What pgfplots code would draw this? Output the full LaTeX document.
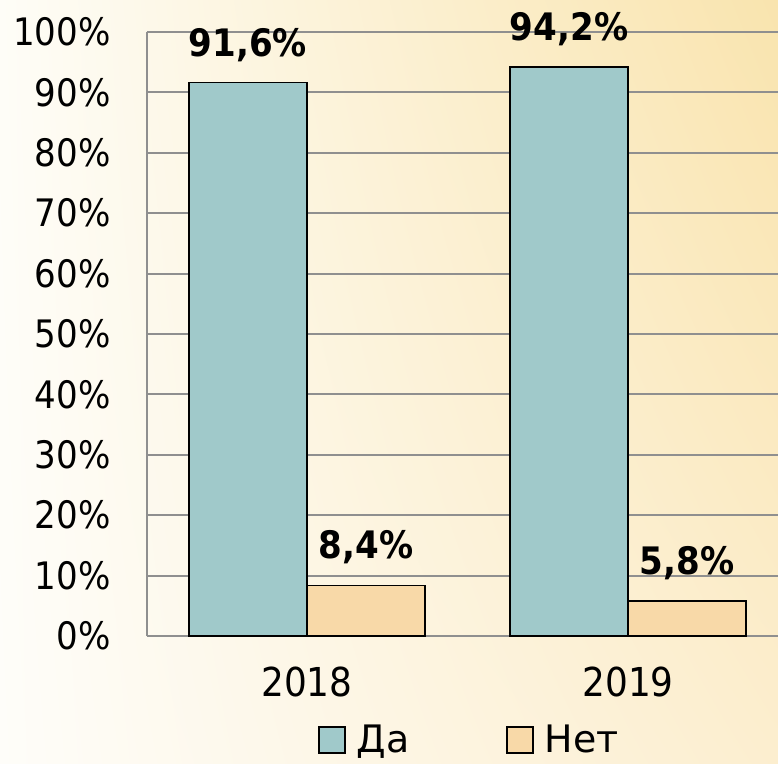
\documentclass[border=0pt]{standalone}
\usepackage{pgfplots}
\pgfplotsset{compat=1.18}
\usetikzlibrary{shadings}
\usepackage{fontspec}
\setmainfont{DejaVu Sans Condensed}
\newfontfamily\legfont{DejaVu Sans}
\definecolor{teal1}{HTML}{A0C9CA}
\definecolor{peach}{HTML}{F8D9A8}
\definecolor{gridg}{HTML}{8F8F8F}
\definecolor{bgul}{HTML}{FEFDF7}
\definecolor{bgur}{HTML}{F9E4AE}
\definecolor{bgll}{HTML}{FEFDF9}
\definecolor{bglr}{HTML}{FCEECF}
\begin{document}
\begin{tikzpicture}
\useasboundingbox (-147bp,-128bp) rectangle (631bp,636bp);
\shade[upper left=bgul, upper right=bgur, lower left=bgll, lower right=bglr]
  (-147bp,-128bp) rectangle (631bp,636bp);
\begin{axis}[
  at={(0,0)}, anchor=south west,
  scale only axis, width=631bp, height=604bp,
  ybar=0pt, bar width=118bp,
  xmin=-0.498, xmax=1.467,
  ymin=0, ymax=100,
  ytick={0,10,...,100},
  yticklabel={\pgfmathprintnumber{\tick}\%},
  xtick={0,1}, xticklabels={2018,2019},
  /pgf/number format/assume math mode=true,
  axis x line=bottom, axis y line=left,
  axis line style={draw=gridg, line width=2bp, -},
  major tick length=0pt,
  ymajorgrids, grid style={draw=gridg, line width=2bp},
  tick label style={font=\fontsize{38}{40}\selectfont},
  xticklabel style={font=\fontsize{40}{42}\selectfont, yshift=-27bp},
  yticklabel style={xshift=-33bp},
  nodes near coords={\pgfmathprintnumber[fixed,fixed zerofill,precision=1,use comma]{\pgfplotspointmeta}\%},
  every node near coord/.append style={font=\bfseries\fontsize{38}{40}\selectfont, anchor=center, yshift=38bp, /pgf/number format/assume math mode=true},
  legend columns=2,
  legend style={draw=none, fill=none, at={(0.511,-0.172)}, anchor=center,
    font=\legfont\fontsize{38}{40}\selectfont, /tikz/every even column/.append style={column sep=95bp},
    /tikz/every odd column/.append style={column sep=2bp}},
  legend image code/.code={\draw[#1, draw=black, line width=1.3bp] (0bp,-13bp) rectangle (26bp,13bp); \path (33bp,0bp);},
]
\addplot[fill=teal1, draw=black, line width=1.5bp] coordinates {(0,91.6) (1,94.2)};
\addplot[fill=peach, draw=black, line width=1.5bp] coordinates {(0,8.4) (1,5.8)};
\legend{Да,Нет}
\end{axis}
\end{tikzpicture}
\end{document}
